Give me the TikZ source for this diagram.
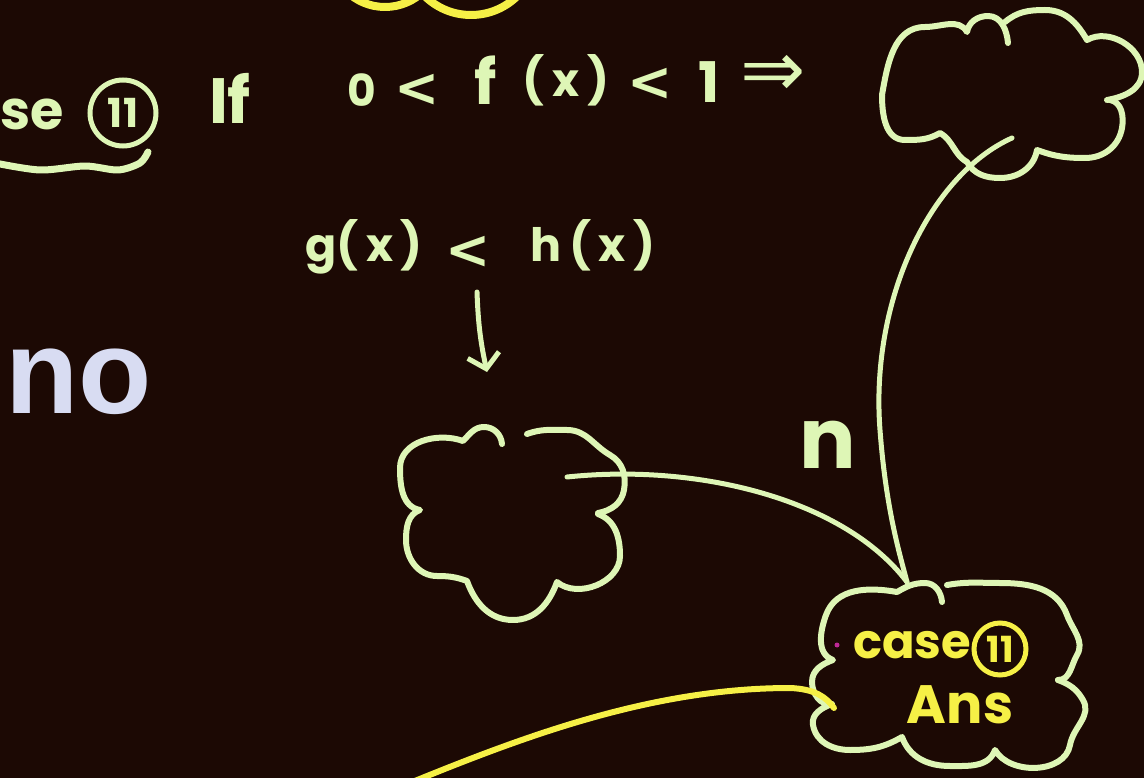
\documentclass[tikz,border=0pt]{standalone}
\usepackage{fontspec}
\usetikzlibrary{arrows.meta}
\newfontfamily\hand{Poppins}
\newfontfamily\symf{DejaVu Sans}
\newfontfamily\nofont{Liberation Sans}
\definecolor{bg}{RGB}{28,9,4}
\definecolor{chalk}{RGB}{222,246,182}
\definecolor{chalky}{RGB}{246,240,70}
\definecolor{lav}{RGB}{216,220,242}
\definecolor{pinkdot}{RGB}{190,40,150}
\begin{document}
\begin{tikzpicture}[x=1pt,y=-1pt,
  chalkline/.style={draw=chalk, line width=6pt, line cap=round, line join=round},
  yline/.style={draw=chalky, line width=6.5pt, line cap=round, line join=round},
  htext/.style={text=chalk, inner sep=0pt, font=\hand\bfseries\fontsize{46}{50}\selectfont},
  lesstext/.style={text=chalk, inner sep=0pt, font=\symf\bfseries\fontsize{54}{58}\selectfont},
  ytext/.style={text=chalky, inner sep=0pt, font=\hand\bfseries\fontsize{48}{52}\selectfont},
  ring/.style={circle, draw=chalk, line width=5pt, inner sep=0pt, text=chalk},
]
\fill[bg] (0,0) rectangle (1144,778);
\useasboundingbox (0,0) rectangle (1144,778);
\clip (0,0) rectangle (1144,778);

% top yellow arcs (cut by the top edge)
\draw[yline, line width=8pt] (385,-48) circle[radius=55];
\draw[yline, line width=8pt] (471,-51) circle[radius=66];

% first line
\node[htext, font=\hand\bfseries\fontsize{54}{58}\selectfont, anchor=base west] (se) at (0,130) {se};
\node[ring, minimum size=66pt, font=\hand\bfseries\fontsize{40}{44}\selectfont] (c11) at (123,113) {11};
\draw[chalkline, line width=7pt] plot[smooth] coordinates {(-5,163) (40,170) (85,166) (118,170) (140,163) (148,152)};
\node[htext, font=\hand\bfseries\fontsize{64}{70}\selectfont, anchor=base] (if) at (230,124) {If};
\node[htext, font=\hand\bfseries\fontsize{44}{48}\selectfont, anchor=base] (zero) at (362,107) {0};
\node[lesstext] (lt1) at (417,90) {<};
\node[htext, font=\hand\bfseries\fontsize{62}{66}\selectfont, anchor=base] (f) at (486,105) {f};
\node[htext] (px) at (566,80) {(\,x\,)};
\node[lesstext] (lt2) at (650,84) {<};
\node[htext, font=\hand\bfseries\fontsize{56}{60}\selectfont] (one) at (709,82) {1};
\node[text=chalk, inner sep=0pt, font=\symf\fontsize{78}{80}\selectfont] (imp) at (773,76) {⇒};

% top-right cloud
\draw[chalkline] (882,95) to[out=80,in=180] (925,27) to[out=0,in=120] (967,32)
  to[out=80,in=180] (988,16) to[out=0,in=95] (1008,43);
\draw[chalkline] (1005,22) to[out=40,in=180] (1045,10) to[out=0,in=120] (1087,40)
  to[out=30,in=90] (1142,72) to[out=-90,in=10] (1107,100);
\draw[chalkline] (1110,100) to[out=-10,in=80] (1122,128) to[out=-100,in=0] (1085,158)
  to[out=180,in=-20] (1037,150) to[out=-100,in=0] (1000,178) to[out=180,in=-60] (967,162)
  to[out=150,in=-30] (940,133) to[out=-150,in=0] (905,140) to[out=180,in=-90] (882,95);

% second line
\node[htext, anchor=base] (gx) at (364,262) {g(\,x\,)};
\node[lesstext] (lt3) at (468,252) {<};
\node[htext, anchor=base] (hx) at (593,262) {h\,(\,x\,)};
\coordinate (a1) at (477,292);
\coordinate (a2) at (487,372);
\draw[chalkline, line width=5pt, -{Straight Barb[length=14pt,width=32pt]}] (a1) to[bend right=5] (a2);

% "no"
\node[text=lav, inner sep=0pt, font=\nofont\bfseries\fontsize{120}{130}\selectfont, anchor=base west] (no) at (5,413) {no};

% middle cloud
\draw[chalkline] (502,444) to[out=95,in=0] (484,427) to[out=180,in=45] (463,441)
  to[out=160,in=90] (400,468) to[out=-90,in=170] (420,510)
  to[out=200,in=90] (406,540) to[out=-90,in=180] (437,576) to[out=0,in=160] (467,581)
  to[out=-70,in=180] (513,620) to[out=0,in=-110] (557,582)
  to[out=-40,in=-90] (620,556) to[out=90,in=-20] (598,514);
\draw[chalkline] (598,513) to[out=10,in=-100] (624,490) to[out=80,in=-30] (610,455)
  to[out=150,in=0] (567,430) to[out=180,in=20] (527,434);

% label n
\node[htext, font=\hand\bfseries\fontsize{84}{90}\selectfont] (nl) at (828,445) {n};

% bottom-right cloud
\draw[chalkline] (942,602) to[out=95,in=0] (925,583) to[out=180,in=30] (897,592)
  to[out=170,in=70] (826,615) to[out=-110,in=160] (833,660)
  to[out=200,in=90] (812,682) to[out=-90,in=190] (832,704)
  to[out=200,in=100] (813,725) to[out=-80,in=180] (850,750) to[out=0,in=-150] (902,737)
  to[out=-70,in=180] (950,766) to[out=0,in=-110] (995,750)
  to[out=-60,in=-100] (1070,745) to[out=80,in=-60] (1083,700) to[out=120,in=-20] (1058,680);
\draw[chalkline] (947,585) to[out=10,in=180] (1000,583) to[out=0,in=110] (1067,615)
  to[out=-70,in=60] (1077,655) to[out=-120,in=0] (1058,680);
\node[ytext] (case) at (912,645) {case};
\node[circle, draw=chalky, line width=5pt, minimum size=52pt, inner sep=0pt, text=chalky,
  font=\hand\bfseries\fontsize{36}{40}\selectfont] (c11b) at (1000,649) {11};
\node[ytext, font=\hand\bfseries\fontsize{54}{60}\selectfont, anchor=base] (ans) at (960,723) {Ans};
\fill[pinkdot] (837,645) circle[radius=2.5];

% connectors
\coordinate (m1) at (567,477);
\coordinate (t1) at (1012,138);
\coordinate (bt) at (907,582);
\draw[chalkline, line width=5pt] (m1) .. controls (700,463) and (845,500) .. (bt);
\draw[chalkline, line width=5pt] (t1) .. controls (930,175) and (870,300) .. (880,430)
  .. controls (886,510) and (900,555) .. (bt);
\coordinate (ys) at (405,785);
\coordinate (ye) at (834,708);
\draw[yline, line width=6pt] (ys) .. controls (520,738) and (650,688) .. (790,688)
  .. controls (815,689) and (826,697) .. (ye);
\end{tikzpicture}
\end{document}
